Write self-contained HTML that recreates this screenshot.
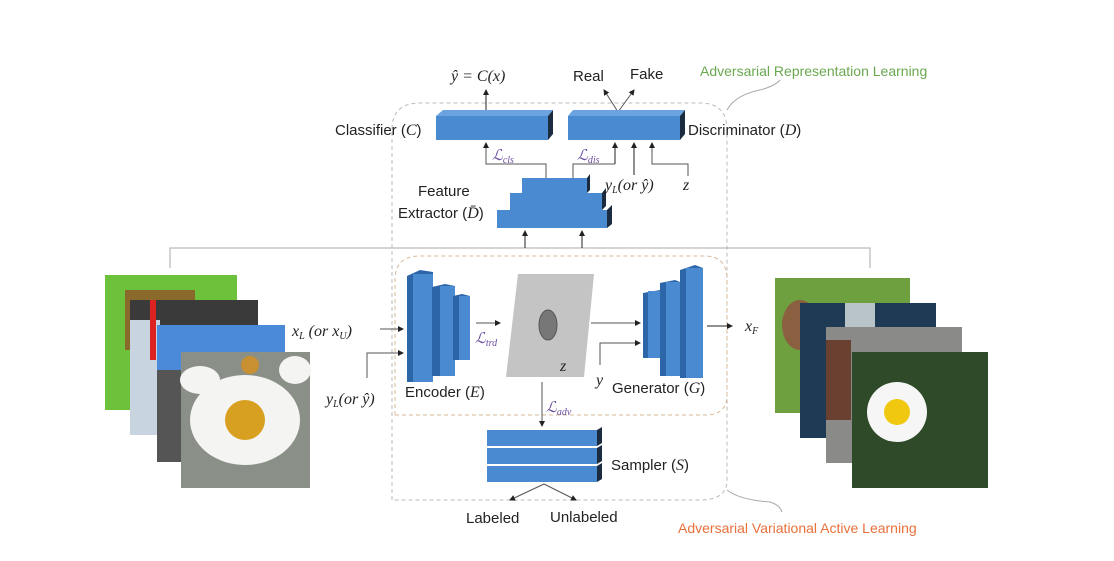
<!DOCTYPE html>
<html><head><meta charset="utf-8"><style>
html,body{margin:0;padding:0;background:#fff;}
svg{display:block;}
text{font-family:"Liberation Sans",sans-serif;font-size:15px;fill:#222;}
.m{font-family:"Liberation Serif",serif;font-style:italic;font-size:16px;}
.l{font-family:"Liberation Serif",serif;font-style:italic;font-size:15px;fill:#6a4fa0;}
</style></head><body>
<svg width="1114" height="561" viewBox="0 0 1114 561" xmlns="http://www.w3.org/2000/svg">
<defs>
<marker id="a" markerWidth="6" markerHeight="6" refX="5" refY="3" orient="auto"><path d="M0,0 L6,3 L0,6z" fill="#222"/></marker>
</defs>
<!-- dashed regions -->
<path d="M392,500 L392,130 Q392,103 420,103 L700,103 Q727,103 727,130 L727,480 Q727,500 700,500 Z" fill="none" stroke="#bbb" stroke-dasharray="4,3"/>
<path d="M395,415 L395,280 Q395,256 420,256 L705,256 Q727,256 727,280 L727,395 Q727,415 705,415 L420,415 Q395,415 395,415Z" fill="none" stroke="#d9b89a" stroke-dasharray="4,3"/>
<path d="M727,110 Q735,95 760,90 Q775,86 780,80" fill="none" stroke="#aaa"/>
<path d="M727,490 Q740,500 770,502 Q780,505 782,512" fill="none" stroke="#aaa"/>
<text x="700" y="76" style="fill:#6aa84f;font-size:14px">Adversarial Representation Learning</text>
<text x="678" y="533" style="fill:#e8703a;font-size:14px">Adversarial Variational Active Learning</text>

<!-- top -->
<text x="451" y="81" class="m">ŷ = C(x)</text>
<text x="573" y="81">Real</text><text x="630" y="79">Fake</text>
<line x1="486" y1="112" x2="486" y2="90" stroke="#222" marker-end="url(#a)"/>
<line x1="618" y1="112" x2="604" y2="90" stroke="#555" marker-end="url(#a)"/>
<line x1="618" y1="112" x2="634" y2="90" stroke="#555" marker-end="url(#a)"/>
<g>
<rect x="436" y="116" width="112" height="24" fill="#4a8ad0"/><polygon points="436,116 443,110 553,110 548,116" fill="#6aa3e0"/><polygon points="548,116 553,110 553,134 548,140" fill="#1b2b40"/>
<rect x="568" y="116" width="112" height="24" fill="#4a8ad0"/><polygon points="568,116 573,110 685,110 680,116" fill="#6aa3e0"/><polygon points="680,116 685,110 685,134 680,140" fill="#1b2b40"/>
</g>
<text x="335" y="135">Classifier (<tspan class="m">C</tspan>)</text>
<text x="688" y="135">Discriminator (<tspan class="m">D</tspan>)</text>
<!-- feature extractor -->
<rect x="497" y="210" width="110" height="18" fill="#4a8ad0"/><polygon points="607,210 612,205 612,224 607,228" fill="#1b2b40"/>
<rect x="510" y="193" width="92" height="17" fill="#4a8ad0"/><polygon points="602,193 606,188 606,206 602,210" fill="#1b2b40"/>
<rect x="522" y="178" width="65" height="15" fill="#4a8ad0"/><polygon points="587,178 590,174 590,190 587,193" fill="#1b2b40"/>
<text x="418" y="196">Feature</text>
<text x="398" y="218">Extractor (<tspan class="m">D̄</tspan>)</text>
<polyline points="546,178 546,164 486,164 486,143" fill="none" stroke="#555" marker-end="url(#a)"/>
<text x="492" y="160" class="l">ℒ<tspan font-size="10" dy="3">cls</tspan></text>
<polyline points="573,178 573,164 615,164" fill="none" stroke="#555"/>
<text x="577" y="160" class="l">ℒ<tspan font-size="10" dy="3">dis</tspan></text>
<line x1="615" y1="164" x2="615" y2="143" stroke="#222" marker-end="url(#a)"/>
<line x1="634" y1="175" x2="634" y2="143" stroke="#222" marker-end="url(#a)"/>
<polyline points="688,176 688,164 652,164 652,143" fill="none" stroke="#555" marker-end="url(#a)"/>
<text x="605" y="190" class="m">y<tspan font-size="10" dy="3">L</tspan><tspan dy="-3">(or ŷ)</tspan></text>
<text x="683" y="190" class="m">z</text>
<!-- horizontal line -->
<polyline points="170,268 170,248 870,248 870,268" fill="none" stroke="#aaa"/>
<line x1="525" y1="248" x2="525" y2="231" stroke="#222" marker-end="url(#a)"/>
<line x1="582" y1="248" x2="582" y2="231" stroke="#222" marker-end="url(#a)"/>

<!-- left images -->
<rect x="105" y="275" width="132" height="135" fill="#6cc23a"/><rect x="125" y="290" width="70" height="60" fill="#8a6a2a"/>
<rect x="130" y="300" width="128" height="135" fill="#3a3a3a"/><rect x="130" y="320" width="30" height="115" fill="#c8d4e0"/><rect x="150" y="300" width="6" height="60" fill="#d22"/>
<rect x="157" y="325" width="128" height="137" fill="#4a8ad8"/><rect x="157" y="370" width="30" height="92" fill="#555"/>
<rect x="181" y="352" width="129" height="136" fill="#8a9088"/>
<g fill="#f4f4f2"><ellipse cx="245" cy="420" rx="55" ry="45"/><ellipse cx="200" cy="380" rx="20" ry="14"/><ellipse cx="295" cy="370" rx="16" ry="14"/></g>
<circle cx="245" cy="420" r="20" fill="#d8a020"/><circle cx="250" cy="365" r="9" fill="#c89030"/>
<!-- right images -->
<rect x="775" y="278" width="135" height="135" fill="#6ea040"/><ellipse cx="800" cy="325" rx="18" ry="25" fill="#8a6040"/>
<rect x="800" y="303" width="136" height="135" fill="#1e3a55"/><rect x="845" y="303" width="30" height="25" fill="#b8c4c8"/>
<rect x="826" y="327" width="136" height="136" fill="#8a8a88"/><rect x="826" y="340" width="25" height="80" fill="#6a4030"/>
<rect x="852" y="352" width="136" height="136" fill="#2e4a28"/>
<circle cx="897" cy="412" r="30" fill="#f6f6f6"/><circle cx="897" cy="412" r="13" fill="#f0c810"/>

<!-- encoder -->
<text x="292" y="336" class="m">x<tspan font-size="10" dy="3">L</tspan><tspan dy="-3"> (or x</tspan><tspan font-size="10" dy="3">U</tspan><tspan dy="-3">)</tspan></text>
<line x1="380" y1="329" x2="403" y2="329" stroke="#555" marker-end="url(#a)"/>
<polyline points="367,378 367,353 403,353" fill="none" stroke="#555" marker-end="url(#a)"/>
<text x="326" y="404" class="m">y<tspan font-size="10" dy="3">L</tspan><tspan dy="-3">(or ŷ)</tspan></text>
<polygon points="407,276 420,270 433,272 433,382 407,382" fill="#2d66a8"/><rect x="413" y="274" width="20" height="108" fill="#4a8ad0"/>
<polygon points="432,287 445,284 455,286 455,376 432,376" fill="#2d66a8"/><rect x="440" y="286" width="15" height="90" fill="#4a8ad0"/>
<polygon points="453,296 462,294 470,296 470,360 453,360" fill="#2d66a8"/><rect x="459" y="296" width="11" height="64" fill="#4a8ad0"/>
<text x="405" y="397">Encoder (<tspan class="m">E</tspan>)</text>
<line x1="476" y1="323" x2="500" y2="323" stroke="#555" marker-end="url(#a)"/>
<text x="475" y="343" class="l">ℒ<tspan font-size="10" dy="3">trd</tspan></text>
<polygon points="518,274 594,274 584,377 506,377" fill="#c4c4c4"/>
<ellipse cx="548" cy="325" rx="9" ry="15" fill="#777" stroke="#555"/>
<text x="560" y="371" class="m">z</text>
<line x1="591" y1="323" x2="640" y2="323" stroke="#555" marker-end="url(#a)"/>
<polyline points="600,365 600,343 640,343" fill="none" stroke="#555" marker-end="url(#a)"/>
<text x="596" y="385" class="m">y</text>
<polygon points="643,293 660,290 660,358 643,358" fill="#2d66a8"/><rect x="648" y="291" width="12" height="67" fill="#4a8ad0"/>
<polygon points="660,283 675,280 680,282 680,376 660,376" fill="#2d66a8"/><rect x="666" y="282" width="14" height="94" fill="#4a8ad0"/>
<polygon points="680,270 695,265 703,268 703,378 680,378" fill="#2d66a8"/><rect x="686" y="268" width="17" height="110" fill="#4a8ad0"/>
<text x="612" y="393">Generator (<tspan class="m">G</tspan>)</text>
<line x1="707" y1="326" x2="732" y2="326" stroke="#222" marker-end="url(#a)"/>
<text x="745" y="331" class="m">x<tspan font-size="10" dy="3">F</tspan></text>
<!-- sampler -->
<line x1="542" y1="382" x2="542" y2="426" stroke="#555" marker-end="url(#a)"/>
<text x="546" y="412" class="l">ℒ<tspan font-size="10" dy="3">adv</tspan></text>
<g>
<rect x="487" y="430" width="110" height="16" fill="#4a8ad0"/><polygon points="597,430 602,427 602,443 597,446" fill="#1b2b40"/>
<rect x="487" y="448" width="110" height="16" fill="#4a8ad0"/><polygon points="597,448 602,445 602,461 597,464" fill="#1b2b40"/>
<rect x="487" y="466" width="110" height="16" fill="#4a8ad0"/><polygon points="597,466 602,463 602,479 597,482" fill="#1b2b40"/>
</g>
<text x="611" y="470">Sampler (<tspan class="m">S</tspan>)</text>
<line x1="544" y1="484" x2="510" y2="500" stroke="#555" marker-end="url(#a)"/>
<line x1="544" y1="484" x2="576" y2="500" stroke="#555" marker-end="url(#a)"/>
<text x="466" y="523">Labeled</text><text x="550" y="522">Unlabeled</text>
</svg>
</body></html>
